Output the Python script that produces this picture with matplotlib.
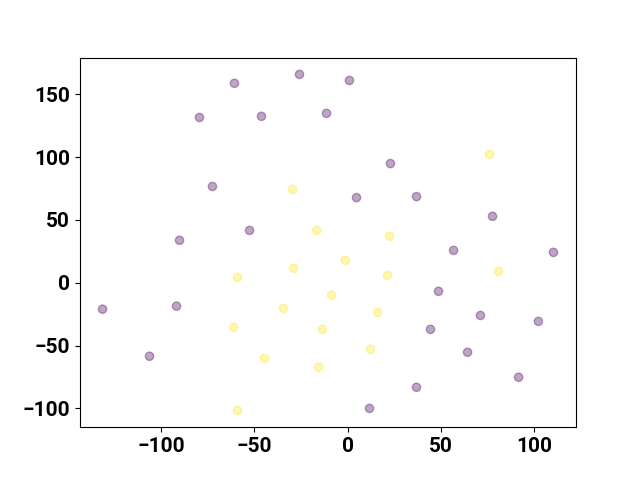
import matplotlib
matplotlib.use("Agg")
import matplotlib.pyplot as plt
import numpy as np

plt.rcParams['font.family'] = ['Roboto', 'DejaVu Sans']
plt.rcParams['font.weight'] = 'bold'
plt.rcParams['font.size'] = 15

purple_x = [-60.7, -25.8, 1.0, -79.5, -46.2, -11.3, 23.0, -72.5, 4.8, 37.0, 77.8, -90.2, -52.6,
            56.9, 110.5, -131.5, -91.8, 48.8, 44.5, 71.3, 102.4, -106.3, 64.4, 91.8, 37.0, 11.8]
purple_y = [158.8, 165.9, 161.1, 131.6, 132.5, 134.9, 94.9, 76.7, 67.8, 68.6, 52.9, 33.8, 41.7,
            25.8, 24.2, -21.0, -18.6, -6.8, -37.1, -26.0, -30.7, -58.5, -55.3, -75.2, -83.2, -100.0]
yellow_x = [76.2, -29.5, -16.6, 22.5, -59.1, -29.0, -1.2, 21.4, 81.1, -8.6, -34.4, 16.1, -13.5,
            -61.2, -44.6, 12.3, -15.6, -59.1]
yellow_y = [102.2, 74.4, 41.7, 37.0, 4.3, 11.5, 17.8, 5.9, 9.1, -10.0, -20.4, -23.6, -37.1,
            -35.5, -60.2, -52.9, -67.3, -101.6]

x = np.array(purple_x + yellow_x)
y = np.array(purple_y + yellow_y)
labels = np.array([0] * len(purple_x) + [1] * len(yellow_x))

fig, ax = plt.subplots(figsize=(6.4, 4.8), dpi=100)
ax.scatter(x, y, c=labels, cmap='viridis', alpha=0.35)
fig.savefig("out.png", dpi=100)
